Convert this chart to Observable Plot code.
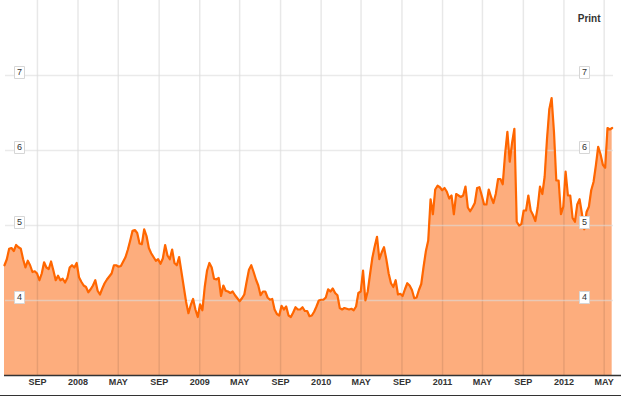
<!DOCTYPE html>
<html><head><meta charset="utf-8">
<script src="https://cdn.jsdelivr.net/npm/d3@7"></script>
<script src="https://cdn.jsdelivr.net/npm/@observablehq/plot@0.6"></script>
<style>body{margin:0;background:#fff} svg{display:block}</style>
</head><body><div id="chart"></div>
<script>
// Weekly readings, starting 2007-05-25
const startDate = "2007-05-25";
const endDate = "2012-05-26";
const values = [
  4.47, 4.55, 4.69, 4.70, 4.66, 4.74, 4.71, 4.69, 4.55, 4.44,
  4.53, 4.47, 4.38, 4.39, 4.36, 4.27, 4.36, 4.51, 4.44, 4.42,
  4.52, 4.40, 4.27, 4.33, 4.27, 4.29, 4.24, 4.30, 4.44, 4.47,
  4.44, 4.50, 4.31, 4.25, 4.20, 4.18, 4.11, 4.15, 4.20, 4.27,
  4.13, 4.08, 4.16, 4.23, 4.28, 4.32, 4.36, 4.47, 4.47, 4.45,
  4.46, 4.52, 4.58, 4.68, 4.80, 4.93, 4.94, 4.90, 4.76, 4.75,
  4.95, 4.86, 4.70, 4.63, 4.58, 4.53, 4.55, 4.49, 4.56, 4.74,
  4.60, 4.55, 4.68, 4.50, 4.47, 4.58, 4.38, 4.18, 3.98, 3.83,
  3.94, 4.02, 3.88, 3.78, 3.95, 3.87, 4.18, 4.40, 4.50, 4.44,
  4.29, 4.28, 4.30, 4.06, 4.20, 4.13, 4.12, 4.10, 4.12, 4.07,
  4.03, 3.99, 4.03, 4.08, 4.25, 4.41, 4.47, 4.38, 4.28, 4.20,
  4.07, 4.12, 4.12, 4.04, 4.01, 4.02, 3.88, 3.82, 3.80, 3.93,
  3.88, 3.92, 3.80, 3.78, 3.84, 3.91, 3.88, 3.88, 3.91, 3.86,
  3.86, 3.79, 3.80, 3.85, 3.92, 4.00, 4.01, 4.01, 4.04, 4.15,
  4.12, 4.16, 4.10, 4.07, 3.90, 3.88, 3.90, 3.89, 3.88, 3.89,
  3.87, 3.92, 4.10, 4.12, 4.40, 4.00, 4.12, 4.35, 4.57, 4.72,
  4.85, 4.55, 4.64, 4.71, 4.55, 4.36, 4.23, 4.18, 4.27, 4.08,
  4.09, 4.06, 4.15, 4.23, 4.20, 4.14, 4.03, 4.04, 4.14, 4.22,
  4.45, 4.66, 4.80, 5.35, 5.15, 5.48, 5.53, 5.51, 5.47, 5.50,
  5.45, 5.36, 5.40, 5.15, 5.42, 5.40, 5.38, 5.40, 5.52, 5.24,
  5.19, 5.24, 5.30, 5.50, 5.51, 5.40, 5.28, 5.28, 5.48, 5.38,
  5.30, 5.42, 5.62, 5.62, 5.55, 5.95, 6.25, 5.85, 6.10, 6.29,
  5.05, 5.00, 5.02, 5.20, 5.20, 5.40, 5.20, 5.14, 5.06, 5.24,
  5.52, 5.42, 5.65, 6.15, 6.55, 6.70, 6.25, 5.60, 5.60, 5.15,
  5.25, 5.72, 5.40, 5.40, 5.10, 5.05, 5.28, 5.35, 5.16, 4.95,
  5.18, 5.25, 5.47, 5.58, 5.80, 6.05, 5.95, 5.81, 5.77, 6.30,
  6.28, 6.30
];
const yDomain = [3, 8];
const yTicks = [4, 5, 6, 7];
const xTickDates = ["2007-09-01","2008-01-01","2008-05-01","2008-09-01","2009-01-01","2009-05-01","2009-09-01","2010-01-01","2010-05-01","2010-09-01","2011-01-01","2011-05-01","2011-09-01","2012-01-01","2012-05-01"];
const xTickLabels = ["SEP","2008","MAY","SEP","2009","MAY","SEP","2010","MAY","SEP","2011","MAY","SEP","2012","MAY"];

const t0 = new Date(startDate);
const data = values.map((v, i) => ({date: d3.utcDay.offset(t0, 7 * i), value: v}));
const xTicks = xTickDates.map((d, i) => ({date: new Date(d), label: xTickLabels[i]}));

const boxSymbol = {draw(ctx) { ctx.rect(-5, -6, 10, 12); }};
const font = "'Liberation Sans', Arial, Helvetica, sans-serif";

const chart = Plot.plot({
  width: 621, height: 396,
  marginTop: 0, marginRight: 0, marginBottom: 21, marginLeft: 0,
  x: {type: "utc", domain: [new Date(startDate), new Date(endDate)], range: [4, 612], axis: null},
  y: {domain: yDomain, range: [375, 0], axis: null},
  style: {fontFamily: font, background: "#fff", overflow: "visible"},
  marks: [
    Plot.areaY(data, {x: "date", y1: () => yDomain[0], y2: "value", fill: "#fdad7d"}),
    Plot.ruleX(xTicks, {x: "date", stroke: "#000", strokeOpacity: 0.09, strokeWidth: 1.5}),
    Plot.ruleY(yTicks, {stroke: "#dcdcdc", strokeOpacity: 0.6, strokeWidth: 1.5, insetLeft: 5, insetRight: 8}),
    Plot.lineY(data, {x: "date", y: "value", stroke: "#ff6600", strokeWidth: 2.2}),
    Plot.ruleY([yDomain[0]], {stroke: "#333", strokeWidth: 1.5, insetLeft: 4}),
    Plot.ruleY([yDomain[0]], {stroke: "#333", strokeWidth: 1, dy: 20}),
    Plot.text(xTicks, {x: "date", text: "label", frameAnchor: "bottom", lineAnchor: "middle", dy: 7, fontWeight: "bold", fontSize: 9, fill: "#333"}),
    Plot.dot(yTicks, {y: d => d, frameAnchor: "left", dx: 19, dy: -3, symbol: boxSymbol, r: 4, fill: "#fff", stroke: "#d6d6d6", strokeWidth: 1}),
    Plot.text(yTicks, {y: d => d, text: d => String(d), frameAnchor: "left", dx: 19, dy: -3, textAnchor: "middle", lineAnchor: "middle", fontSize: 9, fill: "#333"}),
    Plot.dot(yTicks, {y: d => d, frameAnchor: "right", dx: -37, dy: -3, symbol: boxSymbol, r: 4, fill: "#fff", stroke: "#d6d6d6", strokeWidth: 1}),
    Plot.text(yTicks, {y: d => d, text: d => String(d), frameAnchor: "right", dx: -37, dy: -3, textAnchor: "middle", lineAnchor: "middle", fontSize: 9, fill: "#333"}),
    Plot.text(["Print"], {text: d => d, frameAnchor: "top-right", dx: -21, dy: 18, textAnchor: "end", lineAnchor: "middle", fontWeight: "bold", fontSize: 10, fill: "#333"})
  ]
});
document.getElementById("chart").appendChild(chart);
</script>
</body></html>
